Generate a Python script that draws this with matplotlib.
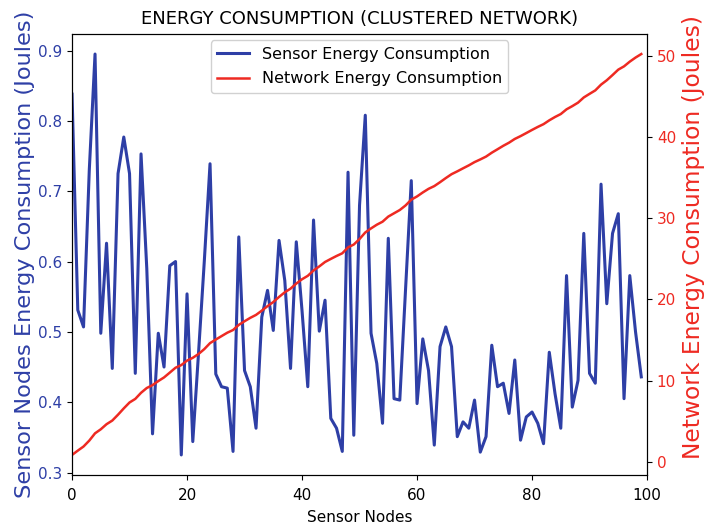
import numpy as np
import matplotlib
matplotlib.use("Agg")
import matplotlib.pyplot as plt

# energy spent by each sensor node (Joules)
sensor_energy = [
    0.838, 0.531, 0.507, 0.730, 0.895, 0.498, 0.626, 0.448, 0.725, 0.777,
    0.725, 0.441, 0.753, 0.590, 0.355, 0.498, 0.450, 0.594, 0.600, 0.325,
    0.554, 0.344, 0.470, 0.600, 0.739, 0.440, 0.422, 0.420, 0.330, 0.635,
    0.445, 0.422, 0.363, 0.521, 0.559, 0.502, 0.630, 0.573, 0.448, 0.628,
    0.530, 0.422, 0.659, 0.501, 0.545, 0.377, 0.363, 0.330, 0.727, 0.353,
    0.680, 0.808, 0.498, 0.455, 0.370, 0.633, 0.405, 0.403, 0.560, 0.715,
    0.398, 0.490, 0.445, 0.339, 0.479, 0.507, 0.479, 0.351, 0.372, 0.363,
    0.403, 0.329, 0.351, 0.481, 0.422, 0.427, 0.384, 0.460, 0.346, 0.379,
    0.386, 0.370, 0.341, 0.471, 0.412, 0.363, 0.580, 0.393, 0.431, 0.640,
    0.441, 0.427, 0.710, 0.540, 0.640, 0.668, 0.405, 0.580, 0.500, 0.436,
]
nodes = np.arange(len(sensor_energy))
# network total is the running sum over the nodes
network_energy = np.cumsum(sensor_energy)

BLUE = "#2e3fa6"
RED = "#ee2a22"

fig = plt.figure(figsize=(7.09, 5.27), dpi=100)
ax1 = fig.add_axes([0.1016, 0.0987, 0.8110, 0.8368])
ax2 = ax1.twinx()

l1, = ax1.plot(nodes, sensor_energy, color=BLUE, lw=2.2,
               label="Sensor Energy Consumption")
l2, = ax2.plot(nodes, network_energy, color=RED, lw=1.8,
               label="Network Energy Consumption")

ax1.set_xlim(0, 100)
ax1.set_xticks([0, 20, 40, 60, 80, 100])
ax1.set_xlabel("Sensor Nodes", fontsize=11, labelpad=5)
ax1.set_ylabel("Sensor Nodes Energy Consumption (Joules)", color=BLUE,
               fontsize=16.2, labelpad=2)
ax2.set_ylabel("Network Energy Consumption (Joules)", color=RED,
               fontsize=16.8, labelpad=4)
# right label sits a little above the middle of the axis
ax2.yaxis.label.set_y(0.54)
ax1.tick_params(axis="y", labelcolor=BLUE, labelsize=11)
ax1.tick_params(axis="x", labelsize=11, pad=6)
ax2.tick_params(axis="y", labelcolor=RED, labelsize=11)
ax1.set_title("ENERGY CONSUMPTION (CLUSTERED NETWORK)", fontsize=13, pad=7)

ax1.legend([l1, l2], [l1.get_label(), l2.get_label()], loc="upper center",
           fontsize=11.5, labelspacing=0.6, framealpha=0.9,
           borderaxespad=0.4)

fig.savefig("out.png", dpi=100)
